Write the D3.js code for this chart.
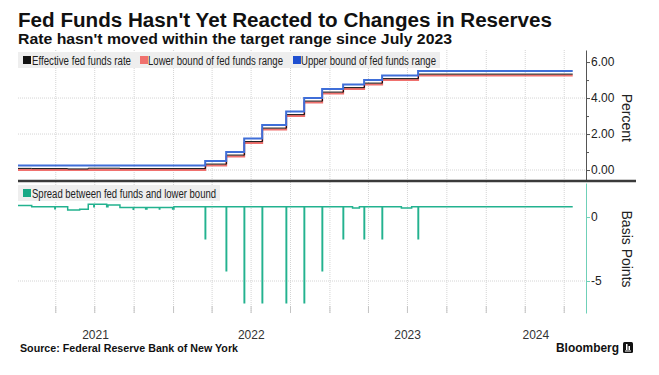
<!DOCTYPE html>
<html>
<head>
<meta charset="utf-8">
<script src="https://d3js.org/d3.v7.min.js"></script>
<style>
  body { margin: 0; background: #fff; }
  svg { display: block; font-family: "Liberation Sans", Arial, sans-serif; }
</style>
</head>
<body>
<div id="chart"></div>
<script>
// fed funds target range (step changes) and effective rate, percent
const rateDates = ["2021-01-04", "2022-03-17", "2022-05-05", "2022-06-16", "2022-07-28", "2022-09-22",
  "2022-11-03", "2022-12-15", "2023-02-02", "2023-03-23", "2023-05-04", "2023-07-27", "2024-07-22"];
const lowerBound = [0, 0.25, 0.75, 1.5, 2.25, 3, 3.75, 4.25, 4.5, 4.75, 5, 5.25, 5.25];
const upperBound = [0.25, 0.5, 1, 1.75, 2.5, 3.25, 4, 4.5, 4.75, 5, 5.25, 5.5, 5.5];

const effDates = ["2021-01-04", "2021-02-05", "2021-04-30", "2021-06-17", "2021-08-30", "2022-03-18",
  "2022-05-06", "2022-06-17", "2022-07-29", "2022-09-23", "2022-11-04", "2022-12-16", "2023-02-03",
  "2023-03-24", "2023-05-05", "2023-07-28", "2024-07-22"];
const effRate = [0.09, 0.08, 0.06, 0.1, 0.08, 0.33, 0.83, 1.58, 2.33, 3.08, 3.83, 4.33, 4.58, 4.83, 5.08, 5.33, 5.33];

// spread between fed funds and lower bound (as plotted)
const spreadDates = ["2021-01-04", "2021-02-05", "2021-03-31", "2021-04-01", "2021-04-30", "2021-05-28",
  "2021-06-17", "2021-06-30", "2021-07-01", "2021-07-30", "2021-08-02", "2021-08-30", "2021-09-30",
  "2021-10-01", "2021-10-29", "2021-11-01", "2021-11-30", "2021-12-01", "2021-12-31", "2022-01-03",
  "2022-03-17", "2022-03-18", "2022-05-05", "2022-05-06", "2022-06-16", "2022-06-17", "2022-07-28",
  "2022-07-29", "2022-09-22", "2022-09-23", "2022-11-03", "2022-11-04", "2022-12-15", "2022-12-16",
  "2023-02-02", "2023-02-03", "2023-02-24", "2023-03-12", "2023-03-23", "2023-03-24", "2023-05-04",
  "2023-05-05", "2023-06-18", "2023-07-12", "2023-07-27", "2023-07-28", "2024-07-22"];
const spreadValues = [0.9, 0.8, 0.65, 0.8, 0.55, 0.6,
  1.0, 0.8, 1.0, 0.8, 0.95, 0.75, 0.6,
  0.75, 0.62, 0.75, 0.62, 0.75, 0.62, 0.8,
  -1.7, 0.8, -4.2, 0.8, -6.7, 0.8, -6.7,
  0.8, -6.7, 0.8, -6.7, 0.8, -4.2, 0.8,
  -1.7, 0.8, 0.7, 0.8, -1.7, 0.8, -1.7,
  0.8, 0.7, 0.8, -1.7, 0.8, 0.8];

const yearLabels = ["2021", "2022", "2023", "2024"];
const rateTicks = [0, 2, 4, 6];
const rateMinorTicks = [1, 3, 5];
const spreadTicks = [0, -5];

const w = 659;
const h = 375;
const parse = d3.timeParse("%Y-%m-%d");
const left = 18, right = 586;
const topY = 50, sepY = 181, botTop = 183, botY = 313;

const x = d3.scaleTime()
  .domain([parse("2021-01-04"), parse("2024-08-22")])
  .range([left, right]);
const yTop = d3.scaleLinear().domain([-0.61, 6.67]).range([sepY, topY]);
const yBot = d3.scaleLinear().domain([-7.5, 2.66]).range([botY, botTop]);

const svg = d3.select("#chart").append("svg")
  .attr("width", w)
  .attr("height", h);

function fit(sel, len) {
  sel.attr("textLength", len).attr("lengthAdjust", "spacingAndGlyphs");
}

// title
svg.append("text").attr("x", 18).attr("y", 27)
  .style("font-size", "20px").style("font-weight", "bold").attr("fill", "#111")
  .text("Fed Funds Hasn't Yet Reacted to Changes in Reserves").call(fit, 534);
svg.append("text").attr("x", 18).attr("y", 44)
  .style("font-size", "14px").style("font-weight", "bold").attr("fill", "#111")
  .text("Rate hasn't moved within the target range since July 2023").call(fit, 434);

// vertical grid (quarters)
const grid = svg.append("g")
  .attr("transform", "translate(0," + botY + ")")
  .call(d3.axisBottom(x).ticks(d3.timeMonth.every(3)).tickSize(-(botY - topY)).tickFormat(""));
grid.select(".domain").remove();
grid.selectAll("line").attr("stroke", "#d4d4d4").attr("stroke-dasharray", "1,1");

const qticks = svg.append("g")
  .attr("transform", "translate(0," + botY + ")")
  .call(d3.axisBottom(x).ticks(d3.timeMonth.every(3)).tickSize(-7).tickFormat(""));
qticks.select(".domain").remove();
qticks.selectAll("line").attr("stroke", "#c4c4c4");

// horizontal grid
svg.append("g").selectAll("line")
  .data([0, 2, 4])
  .enter().append("line")
  .attr("x1", left).attr("x2", right)
  .attr("y1", d => yTop(d)).attr("y2", d => yTop(d))
  .attr("stroke", "#d4d4d4").attr("stroke-dasharray", "1,1");
svg.append("g").selectAll("line")
  .data([-5])
  .enter().append("line")
  .attr("x1", left).attr("x2", right)
  .attr("y1", d => yBot(d)).attr("y2", d => yBot(d))
  .attr("stroke", "#d4d4d4").attr("stroke-dasharray", "1,1");

// year labels centred on the visible part of each year
const dom = x.domain();
svg.append("g").selectAll("text")
  .data(yearLabels)
  .enter().append("text")
  .attr("x", d => {
    const a = Math.max(+dom[0], +new Date(+d, 0, 1));
    const b = Math.min(+dom[1], +new Date(+d + 1, 0, 1));
    return x(new Date((a + b) / 2));
  })
  .attr("y", 339)
  .attr("text-anchor", "middle")
  .style("font-size", "12px")
  .attr("fill", "#333")
  .text(d => d);

// top panel lines
const stepLine = (dates, vals, y) => d3.line()
  .curve(d3.curveStepAfter)
  .x((d, i) => x(parse(dates[i])))
  .y((d, i) => y(vals[i]))(vals);

svg.append("path").attr("d", stepLine(rateDates, lowerBound, yTop))
  .attr("fill", "none").attr("stroke", "#f0716e").attr("stroke-width", 2);
svg.append("path").attr("d", stepLine(effDates, effRate, yTop))
  .attr("fill", "none").attr("stroke", "#111").attr("stroke-width", 1);
svg.append("path").attr("d", stepLine(rateDates, upperBound, yTop))
  .attr("fill", "none").attr("stroke", "#3f6ed8").attr("stroke-width", 2);

// bottom panel line
svg.append("path").attr("d", stepLine(spreadDates, spreadValues, yBot))
  .attr("fill", "none").attr("stroke", "#23b28f").attr("stroke-width", 1.5);

// right axes
const axTop = svg.append("g")
  .attr("transform", "translate(" + right + ",0)")
  .call(d3.axisRight(yTop).tickValues(rateTicks).tickFormat(d3.format(".2f")).tickSize(4).tickSizeOuter(0).tickPadding(1));
axTop.select(".domain").attr("stroke", "#555");
axTop.selectAll("line").attr("stroke", "#555");
axTop.selectAll("text").style("font-size", "12px").style("font-family", "Liberation Sans, Arial, sans-serif").attr("fill", "#222");
const axTopMinor = svg.append("g")
  .attr("transform", "translate(" + right + ",0)")
  .call(d3.axisRight(yTop).tickValues(rateMinorTicks).tickFormat("").tickSize(3).tickSizeOuter(0));
axTopMinor.select(".domain").remove();
axTopMinor.selectAll("line").attr("stroke", "#555");

const axBot = svg.append("g")
  .attr("transform", "translate(" + right + ",0)")
  .call(d3.axisRight(yBot).tickValues(spreadTicks).tickFormat(d => String(d)).tickSize(4).tickSizeOuter(0).tickPadding(1));
axBot.select(".domain").attr("stroke", "#6fd0b8");
axBot.selectAll("line").attr("stroke", "#6fd0b8");
axBot.selectAll("text").style("font-size", "12px").style("font-family", "Liberation Sans, Arial, sans-serif").attr("fill", "#222");

svg.append("text")
  .attr("transform", "translate(627," + yTop(2.9) + ") rotate(90)")
  .attr("text-anchor", "middle").attr("dy", "0.35em")
  .style("font-size", "14px").attr("fill", "#222")
  .text("Percent");
svg.append("text")
  .attr("transform", "translate(627," + yBot(-2.5) + ") rotate(90)")
  .attr("text-anchor", "middle").attr("dy", "0.35em")
  .style("font-size", "14px").attr("fill", "#222")
  .text("Basis Points");

// separator between panels
svg.append("line")
  .attr("x1", left).attr("x2", 636).attr("y1", sepY).attr("y2", sepY)
  .attr("stroke", "#3a3a3a").attr("stroke-width", 2.5);

// legends
const legendFont = "Liberation Sans Narrow, Liberation Sans, Arial, sans-serif";
svg.append("rect").attr("x", left).attr("y", 52).attr("width", 422).attr("height", 16).attr("fill", "#eeeeee");
const topItems = [
  { label: "Effective fed funds rate", color: "#111", sx: 23, tx: 32, tw: 99 },
  { label: "Lower bound of fed funds range", color: "#f0716e", sx: 140, tx: 148, tw: 135 },
  { label: "Upper bound of fed funds range", color: "#1f4fd0", sx: 293, tx: 301, tw: 135 }
];
topItems.forEach(it => {
  svg.append("rect").attr("x", it.sx).attr("y", 56).attr("width", 8).attr("height", 8).attr("fill", it.color);
  svg.append("text").attr("x", it.tx).attr("y", 64.5)
    .style("font-size", "12px").style("font-family", legendFont).attr("fill", "#222")
    .text(it.label).call(fit, it.tw);
});

svg.append("rect").attr("x", left).attr("y", 185).attr("width", 202).attr("height", 16).attr("fill", "#eeeeee");
svg.append("rect").attr("x", 23).attr("y", 189).attr("width", 8).attr("height", 8).attr("fill", "#17a885");
svg.append("text").attr("x", 32).attr("y", 197.5)
  .style("font-size", "12px").style("font-family", legendFont).attr("fill", "#222")
  .text("Spread between fed funds and lower bound").call(fit, 184);

// footer
svg.append("text").attr("x", 20).attr("y", 352)
  .style("font-size", "10.5px").style("font-weight", "bold").attr("fill", "#111")
  .text("Source: Federal Reserve Bank of New York").call(fit, 218);
svg.append("text").attr("x", 556).attr("y", 352)
  .style("font-size", "13px").style("font-weight", "bold").attr("fill", "#111")
  .text("Bloomberg").call(fit, 63);
const logo = svg.append("g").attr("transform", "translate(623,342)");
logo.append("rect").attr("width", 10).attr("height", 11).attr("rx", 1.5).attr("fill", "#111");
logo.append("rect").attr("x", 3).attr("y", 2).attr("width", 1.5).attr("height", 6).attr("fill", "#fff");
logo.append("rect").attr("x", 5.5).attr("y", 4).attr("width", 1.5).attr("height", 4).attr("fill", "#fff");
logo.append("rect").attr("x", 2).attr("y", 8.5).attr("width", 6).attr("height", 1).attr("fill", "#fff");
</script>
</body>
</html>
